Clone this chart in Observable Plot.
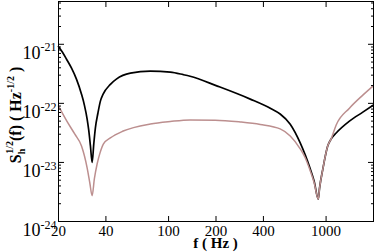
<!DOCTYPE html>
<html><head><meta charset="utf-8">
<script src="https://cdn.jsdelivr.net/npm/d3@7"></script>
<script src="https://cdn.jsdelivr.net/npm/@observablehq/plot@0.6"></script>
<style>
body{margin:0;background:#fff}
#chart svg{font-family:"Liberation Serif","Times New Roman",serif !important;}
</style>
</head><body><div id="chart"></div>
<script>
// Black series (f in Hz, amplitude)
const freqBlack = [20, 21.2, 22.5, 24.2, 26.0, 28.0, 29.2, 30.4, 31.1, 31.9, 32.7, 33.5, 34.3, 35.6, 36.9, 38.4, 42.7, 46.6, 57.2, 76.6, 102.6, 124, 137, 204, 330, 448, 511, 592, 685, 737, 793, 840, 892, 908, 954, 1026, 1077, 1159, 1407, 1711, 2000];
const valBlack  = [9.2e-22, 7.33e-22, 5.58e-22, 3.94e-22, 2.57e-22, 1.43e-22, 9.35e-23, 5.43e-23, 3.55e-23, 1.91e-23, 1.0e-23, 2.06e-23, 3.85e-23, 6.86e-23, 1.09e-22, 1.43e-22, 2.1e-22, 2.57e-22, 3.24e-22, 3.5e-22, 3.37e-22, 3.06e-22, 2.88e-22, 1.96e-22, 1.18e-22, 8.1e-23, 6.6e-23, 4.43e-23, 2.14e-23, 1.34e-23, 7.8e-24, 4.8e-24, 2.4e-24, 3.6e-24, 7.8e-24, 1.93e-23, 2.5e-23, 3.15e-23, 5.0e-23, 7.1e-23, 9.35e-23];
// Pink series
const freqPink = [20, 22.5, 25.4, 28.0, 30.4, 31.6, 32.7, 33.8, 35.2, 36.7, 38.6, 42.7, 51.5, 76.6, 102.6, 137, 198, 285, 382, 511, 592, 685, 737, 793, 840, 892, 908, 954, 1026, 1077, 1159, 1407, 1711, 2000];
const valPink  = [9.0e-23, 5.1e-23, 3.0e-23, 1.9e-23, 8.1e-24, 4.53e-24, 2.73e-24, 5.3e-24, 9.5e-24, 1.45e-23, 2.06e-23, 2.6e-23, 3.4e-23, 4.48e-23, 4.93e-23, 5.23e-23, 5.2e-23, 4.84e-23, 4.39e-23, 3.69e-23, 2.81e-23, 1.70e-23, 1.20e-23, 7.22e-24, 4.53e-24, 2.4e-24, 3.6e-24, 7.8e-24, 1.93e-23, 2.5e-23, 4.3e-23, 8.3e-23, 1.38e-22, 2.0e-22];

const xTicks = [20, 40, 100, 200, 400, 1000];
const yMajor = [1e-24, 1e-23, 1e-22, 1e-21];
const yMinorMult = [2, 3, 4, 5, 6, 7, 8, 9];
const xLabel = "f ( Hz )";

const yMinor = [];
for (const d of yMajor) for (const m of yMinorMult) if (d * m < 5.3e-21) yMinor.push(d * m);

const black = freqBlack.map((f, i) => ({f, v: valBlack[i]}));
const pink = freqPink.map((f, i) => ({f, v: valPink[i]}));

const chart = Plot.plot({
  width: 374, height: 252,
  marginLeft: 58, marginRight: 1, marginTop: 1, marginBottom: 31,
  style: {fontFamily: "'Liberation Serif', serif", fontSize: "15px", background: "white", color: "black"},
  x: {type: "log", domain: [20, 2000]},
  y: {type: "log", domain: [1e-24, 5.3e-21]},
  marks: [
    Plot.line(black, {x: "f", y: "v", stroke: "black", strokeWidth: 1.7, curve: "monotone-x"}),
    Plot.line(pink, {x: "f", y: "v", stroke: "#bc8f8f", strokeWidth: 1.5, curve: "monotone-x"}),
    Plot.axisX({ticks: xTicks, tickSize: -5, tickPadding: 9, tickFormat: d => String(d), fontSize: 15,
      label: xLabel, labelAnchor: "center", labelArrow: "none", labelOffset: 28}),
    Plot.axisX({anchor: "top", ticks: xTicks, tickSize: -5, tickFormat: () => "", label: null}),
    Plot.axisY({ticks: yMajor, tickSize: -6, tickPadding: 8, tickFormat: d => "10" + Math.round(Math.log10(d)), fontSize: 18,
      label: "Y", labelAnchor: "center", labelArrow: "none", labelOffset: 50}),
    Plot.axisY({ticks: yMinor, tickSize: -3, tickFormat: () => "", label: null}),
    Plot.axisY({anchor: "right", ticks: yMajor, tickSize: -6, tickFormat: () => "", label: null}),
    Plot.axisY({anchor: "right", ticks: yMinor, tickSize: -3, tickFormat: () => "", label: null}),
    Plot.frame({stroke: "black", strokeWidth: 1})
  ]
});
document.getElementById("chart").appendChild(chart);

const svg = d3.select(chart);
// superscript exponents on y tick labels
svg.selectAll('g[aria-label="y-axis tick label"] text').each(function() {
  const t = d3.select(this);
  const s = t.text();
  if (!s) return;
  const exp = s.slice(2);
  t.text("").attr("dy", "0.48em");
  t.append("tspan").text("10");
  t.append("tspan").attr("font-size", 12).attr("dy", "-0.6em").text(exp);
});
// x-axis title bold, explicit position
svg.selectAll('g[aria-label="x-axis label"]').attr("transform", null).each(function() {
  d3.select(this).select("text")
    .attr("x", null).attr("y", null).attr("dy", null)
    .attr("transform", "translate(215.5,248)")
    .attr("text-anchor", "middle").attr("font-weight", "bold").attr("font-size", 15);
});
// y-axis title with sub/superscripts
svg.selectAll('g[aria-label="y-axis label"]').attr("transform", null).each(function() {
  const t = d3.select(this).select("text");
  t.text("").attr("x", null).attr("y", null).attr("dy", null)
    .attr("transform", "translate(21,115) rotate(-90)")
    .attr("text-anchor", "middle").attr("font-weight", "bold").attr("font-size", 16);
  t.append("tspan").text("S");
  t.append("tspan").attr("font-size", 10).attr("dy", 4).text("h");
  t.append("tspan").attr("font-size", 10).attr("dx", -5).attr("dy", -12).text("1/2");
  t.append("tspan").attr("dy", 8).text("(f) ( Hz");
  t.append("tspan").attr("font-size", 10).attr("dy", -7).text("-1/2");
  t.append("tspan").attr("dy", 7).text(" )");
});
</script>
</body></html>
